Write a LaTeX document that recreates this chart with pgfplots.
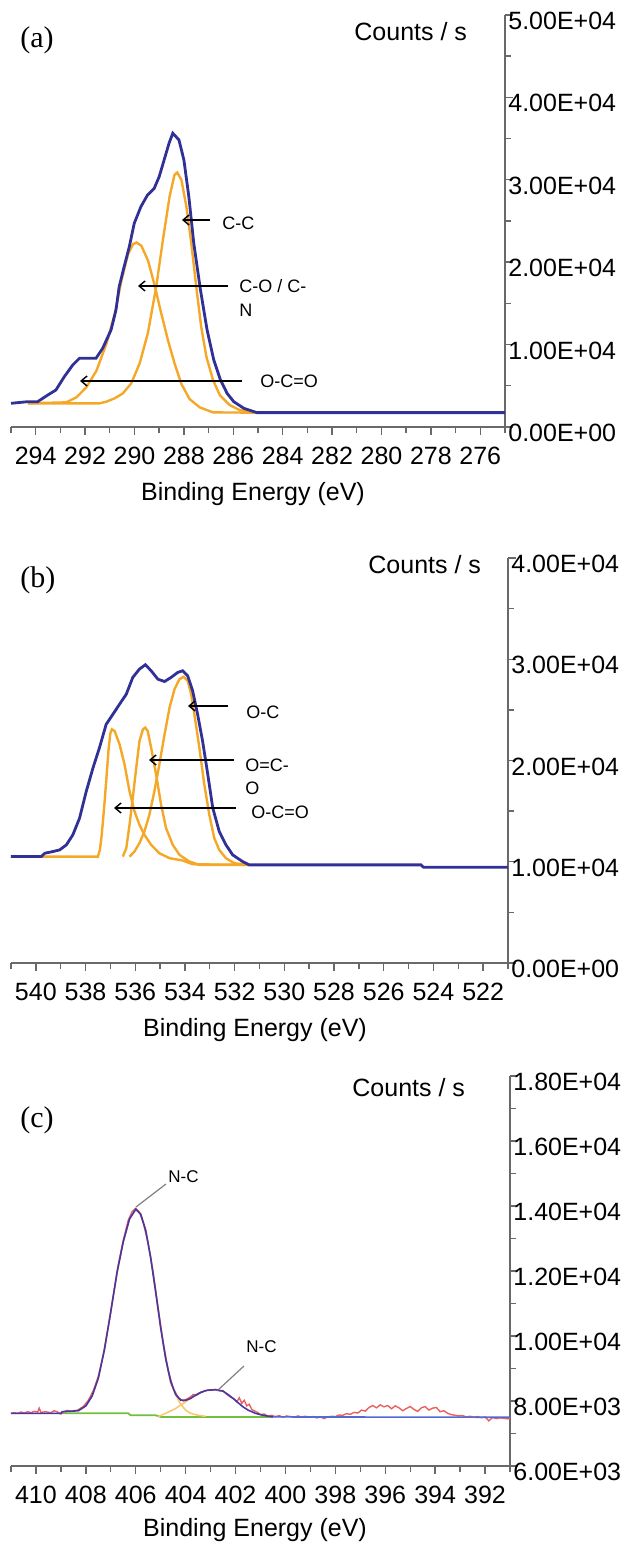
\documentclass[border=0pt]{standalone}
\usepackage{fontspec}
\setmainfont{Liberation Sans}
\newfontfamily\seriffont{Liberation Serif}
\usepackage{pgfplots}
\pgfplotsset{compat=1.18}
\usetikzlibrary{arrows.meta}

\definecolor{envblue}{RGB}{48,48,150}
\definecolor{compor}{RGB}{245,168,40}
\definecolor{axgray}{RGB}{105,105,105}
\definecolor{rawred}{RGB}{235,95,95}
\definecolor{fitblue}{RGB}{70,55,165}
\definecolor{lightor}{RGB}{248,200,110}
\definecolor{bggreen}{RGB}{115,190,60}
\definecolor{baseblue}{RGB}{85,105,210}

\pgfplotsset{
  xpsax/.style={
    scale only axis, anchor=south west,
    axis x line*=bottom, axis y line*=right, x dir=reverse,
    axis line style={axgray, line width=0.9pt},
    tick style={axgray, line width=0.7pt}, tick align=outside,
    major tick length=4pt, minor tick length=3pt,
    yticklabel pos=right, scaled y ticks=false, scaled x ticks=false,
    /pgf/number format/assume math mode=true,
    tick label style={font=\fontsize{12.5}{14}\selectfont, inner sep=0pt},
    xticklabel style={anchor=north, yshift=-6pt},
    yticklabel style={anchor=west, xshift=-2.5pt, yshift=-3pt},
  },
}
\newcommand{\lbl}{\fontsize{12.5}{14}\selectfont}
\newcommand{\ann}{\fontsize{9}{10}\selectfont}
\tikzset{barb/.style={line width=0.7pt, -{Straight Barb[length=3pt,width=5pt]}}}

\begin{document}
\begin{tikzpicture}[x=0.5pt,y=0.5pt]
\useasboundingbox (0,0) rectangle (623,1556);

% ---------------- (a) C1s
\begin{axis}[xpsax, at={(5.5pt,564.5pt)}, width=247pt, height=206pt,
  xmin=275, xmax=295, ymin=0, ymax=50000,
  xtick={276,278,...,294}, minor xtick={275,277,...,295},
  ytick={0,10000,...,50000}, minor y tick num=1,
  yticklabels={0.00E+00,1.00E+04,2.00E+04,3.00E+04,4.00E+04,5.00E+04}]
\addplot[compor, line width=1.2pt] coordinates {
(294.32,2873) (292.76,2990) (292.35,3600) (291.95,4810) (291.54,6830) (291.14,10070)
(290.8,13700) (290.53,17740) (290.26,20980) (290.06,22190) (289.92,22390) (289.72,21990)
(289.45,20170) (289.18,17140) (288.91,13700) (288.64,10470) (288.37,7640) (288.1,5210)
(287.77,3390) (287.36,2380) (286.82,1770) (285.04,1740)};
\addplot[compor, line width=1.2pt] coordinates {
(294.32,2873) (291.41,2870) (291.14,3070) (290.8,3480) (290.47,4080) (290.13,5300)
(289.79,7730) (289.46,11370) (289.12,17030) (288.85,22700) (288.58,27960) (288.38,30590)
(288.27,30880) (288.1,29990) (287.9,26750) (287.7,22300) (287.5,17030) (287.3,12170)
(287.09,8530) (286.82,5700) (286.55,3880) (286.15,2670) (285.75,2060) (285.07,1740)};
\addplot[envblue, line width=1.4pt] coordinates {
(295,2873) (294.32,3070) (293.92,3070) (293.51,3880) (293.18,4490) (292.84,6110)
(292.5,7520) (292.23,8330) (291.56,8330) (291.29,9540) (290.95,11770) (290.75,14190)
(290.62,17030) (290.42,19450) (290.21,21880) (290.01,24720) (289.74,26740) (289.47,28160)
(289.2,28970) (289.0,30380) (288.8,32410) (288.6,34440) (288.45,35650) (288.2,34840)
(288.0,32410) (287.8,27960) (287.6,22300) (287.33,16640) (287.06,11770) (286.79,8130)
(286.52,5700) (286.25,4080) (285.98,3070) (285.57,2260) (285.04,1740) (275,1740)};
\end{axis}
\node[anchor=west, inner sep=0pt, font=\seriffont\fontsize{15}{17}\selectfont] at (20,1516) {(a)};
\node[anchor=west, inner sep=0pt, font=\lbl] at (354,1524) {Counts / s};
\node[inner sep=0pt, font=\lbl] at (253,1062) {Binding Energy (eV)};
\draw[barb] (210,1336) -- (182,1336);
\draw[barb] (228,1270) -- (138,1270);
\draw[barb] (242,1175) -- (80,1175);
\node[anchor=west, inner sep=0pt, font=\ann] at (222,1333) {C-C};
\node[anchor=west, inner sep=0pt, font=\ann] at (239,1270) {C-O / C-};
\node[anchor=west, inner sep=0pt, font=\ann] at (239,1246) {N};
\node[anchor=west, inner sep=0pt, font=\ann] at (260,1175) {O-C=O};

% ---------------- (b) O1s
\begin{axis}[xpsax, at={(5.5pt,296.5pt)}, width=248.5pt, height=202.5pt,
  xmin=521, xmax=541, ymin=0, ymax=40000,
  xtick={522,524,...,540}, minor xtick={521,523,...,541},
  ytick={0,10000,...,40000}, minor y tick num=1,
  yticklabels={0.00E+00,1.00E+04,2.00E+04,3.00E+04,4.00E+04}]
\addplot[compor, line width=1.2pt] coordinates {
(539.78,10510) (537.5,10510) (537.42,11200) (537.36,12400) (537.3,14000) (537.23,16000)
(537.15,18600) (537.07,21200) (537.0,22700) (536.94,23080) (536.83,22910) (536.63,21590)
(536.43,19600) (536.23,16960) (536.03,14980) (535.83,13650) (535.63,12660) (535.36,11670)
(535.03,10840) (534.62,10350) (534.09,10120) (533.69,9750) (531.41,9690)};
\addplot[compor, line width=1.2pt] coordinates {
(536.5,10510) (536.36,11340) (536.23,13650) (536.1,16300) (535.96,19270) (535.83,21920)
(535.69,23080) (535.6,23250) (535.5,22910) (535.36,21260) (535.16,18610) (534.96,15640)
(534.76,13320) (534.49,11670) (534.22,10680) (533.82,10020) (533.42,9690) (531.41,9690)};
\addplot[compor, line width=1.2pt] coordinates {
(536.23,10510) (536.03,11010) (535.83,11840) (535.63,12990) (535.43,14650) (535.23,16960)
(535.03,19600) (534.82,22580) (534.62,25220) (534.42,27040) (534.22,28030) (534.05,28270)
(533.89,27870) (533.75,26550) (533.62,24560) (533.42,21260) (533.22,17620) (533.02,14650)
(532.82,12330) (532.62,11170) (532.35,10350) (532.01,9850) (531.41,9690)};
\addplot[envblue, line width=1.4pt] coordinates {
(541,10510) (539.78,10510) (539.64,10840) (539.31,11010) (539.04,11170) (538.77,11670)
(538.51,12660) (538.24,14310) (537.97,16960) (537.7,19270) (537.44,21260) (537.17,23570)
(536.9,24560) (536.63,25560) (536.36,26550) (536.1,28200) (535.83,29030) (535.59,29460)
(535.36,28860) (535.09,28030) (534.82,27800) (534.56,28200) (534.29,28700) (534.09,28860)
(533.89,28370) (533.69,26880) (533.49,24560) (533.29,21920) (533.08,18610) (532.88,15310)
(532.62,12990) (532.35,11670) (532.08,10680) (531.68,10020) (531.41,9690) (524.5,9690)
(524.4,9455) (521,9455)};
\end{axis}
\node[anchor=west, inner sep=0pt, font=\seriffont\fontsize{15}{17}\selectfont] at (20,976) {(b)};
\node[anchor=west, inner sep=0pt, font=\lbl] at (368,991) {Counts / s};
\node[inner sep=0pt, font=\lbl] at (255,526) {Binding Energy (eV)};
\draw[barb] (228,850) -- (188,850);
\draw[barb] (234,796) -- (149,796);
\draw[barb] (236,748) -- (114,748);
\node[anchor=west, inner sep=0pt, font=\ann] at (246,844) {O-C};
\node[anchor=west, inner sep=0pt, font=\ann] at (245,791) {O=C-};
\node[anchor=west, inner sep=0pt, font=\ann] at (245,768) {O};
\node[anchor=west, inner sep=0pt, font=\ann] at (251,744) {O-C=O};

% ---------------- (c) N1s
\begin{axis}[xpsax, at={(5.5pt,45pt)}, width=249.5pt, height=195pt,
  xmin=391, xmax=411, ymin=6000, ymax=18000,
  xtick={392,394,...,410}, minor xtick={391,393,...,411},
  ytick={6000,8000,...,18000}, minor y tick num=1,
  yticklabels={6.00E+03,8.00E+03,1.00E+04,1.20E+04,1.40E+04,1.60E+04,1.80E+04}]
% background
\addplot[bggreen, line width=0.9pt] coordinates {
(409.0,7620) (406.3,7620) (406.2,7560) (405.2,7560) (405.0,7510) (400.5,7510)};
% components
\addplot[lightor, line width=0.8pt] coordinates {
(408.3,7700) (408.0,7850) (407.75,8150) (407.5,8700) (407.25,9600) (407.0,10750)
(406.75,11950) (406.5,12900) (406.25,13600) (406.0,13900) (405.8,13750) (405.6,13250)
(405.4,12400) (405.2,11350) (405.0,10250) (404.8,9300) (404.6,8550) (404.4,8200)
(404.2,7900) (404.0,7720) (403.8,7620) (403.5,7560) (403.2,7530)};
\addplot[lightor, line width=0.8pt] coordinates {
(405.1,7520) (404.8,7620) (404.4,7770) (404.07,7940) (403.73,8120) (403.47,8240) (403.2,8320)};
% raw data
\addplot[rawred, line width=0.7pt] coordinates {
(411.0,7620) (410.87,7640) (410.73,7620) (410.6,7660) (410.47,7630) (410.33,7670)
(410.2,7640) (410.07,7680) (409.93,7660) (409.87,7780) (409.8,7650) (409.6,7670)
(409.4,7640) (409.27,7700) (409.13,7660) (409.0,7600) (408.87,7680) (408.73,7710)
(408.6,7680) (408.47,7700) (408.33,7720) (408.1,7830) (407.9,8020) (407.7,8320)
(407.5,8760) (407.3,9420) (407.1,10300) (406.9,11250) (406.7,12200) (406.5,12950)
(406.3,13560) (406.15,13820) (406.0,13930) (405.85,13810) (405.7,13480) (405.5,12850)
(405.3,11950) (405.1,10850) (404.9,9800) (404.7,8950) (404.5,8400) (404.3,8100)
(404.1,8000) (403.95,8060) (403.8,8130) (403.7,8200) (403.55,8180) (403.4,8270)
(403.25,8300) (403.1,8340) (402.95,8330) (402.8,8360) (402.65,8310) (402.5,8320)
(402.35,8200) (402.2,8120) (402.05,8060) (401.95,7970) (401.85,8100) (401.75,7930)
(401.65,8020) (401.55,7850) (401.45,7900) (401.35,7740) (401.25,7700) (401.1,7640)
(401.0,7580) (400.85,7600) (400.7,7530) (400.55,7560) (400.4,7520) (400.25,7550)
(400.1,7500) (399.95,7540) (399.8,7520) (399.65,7500) (399.5,7540) (399.35,7510)
(399.2,7530) (399.05,7500) (398.9,7520) (398.75,7480) (398.6,7510) (398.45,7460)
(398.3,7510) (398.15,7530) (398.0,7520) (397.85,7570) (397.7,7560) (397.55,7610)
(397.4,7590) (397.25,7650) (397.1,7630) (396.95,7720) (396.8,7690) (396.65,7800)
(396.5,7860) (396.35,7790) (396.2,7880) (396.05,7820) (395.9,7860) (395.75,7760)
(395.6,7850) (395.45,7790) (395.3,7700) (395.15,7770) (395.0,7830) (394.85,7740)
(394.7,7680) (394.55,7790) (394.4,7830) (394.25,7720) (394.1,7780) (393.95,7800)
(393.8,7670) (393.65,7700) (393.5,7620) (393.35,7580) (393.2,7560) (393.05,7540)
(392.9,7550) (392.75,7510) (392.6,7530) (392.45,7500) (392.3,7520) (392.15,7490)
(392.0,7510) (391.85,7390) (391.7,7490) (391.55,7460) (391.4,7480) (391.25,7470)
(391.1,7450) (391.0,7460)};
% fit envelope
\addplot[fitblue, line width=0.8pt] coordinates {
(411.0,7620) (409.0,7620) (408.95,7670) (408.3,7700) (408.0,7850) (407.75,8150)
(407.5,8700) (407.25,9600) (407.0,10750) (406.75,11950) (406.5,12900) (406.25,13600)
(406.0,13900) (405.8,13750) (405.6,13250) (405.4,12400) (405.2,11350) (405.0,10250)
(404.8,9300) (404.6,8600) (404.4,8200) (404.2,8030) (404.0,8020) (403.8,8080)
(403.6,8180) (403.4,8260) (403.2,8320) (403.0,8340) (402.7,8340) (402.5,8300)
(402.3,8200) (402.1,8080) (401.9,7950) (401.7,7820) (401.5,7720) (401.2,7620)
(400.9,7560) (400.5,7510)};
\addplot[baseblue, line width=0.8pt] coordinates {(400.5,7510) (391,7500)};
\end{axis}
\node[anchor=west, inner sep=0pt, font=\seriffont\fontsize{15}{17}\selectfont] at (20,436) {(c)};
\node[anchor=west, inner sep=0pt, font=\lbl] at (352,468) {Counts / s};
\node[inner sep=0pt, font=\lbl] at (255,26) {Binding Energy (eV)};
\draw[gray, line width=0.6pt] (166,372) -- (136,349);
\draw[gray, line width=0.6pt] (244,190) -- (218,166);
\node[anchor=west, inner sep=0pt, font=\fontsize{8.5}{10}\selectfont] at (168,379) {N-C};
\node[anchor=west, inner sep=0pt, font=\fontsize{8.5}{10}\selectfont] at (246,209) {N-C};
\end{tikzpicture}
\end{document}
